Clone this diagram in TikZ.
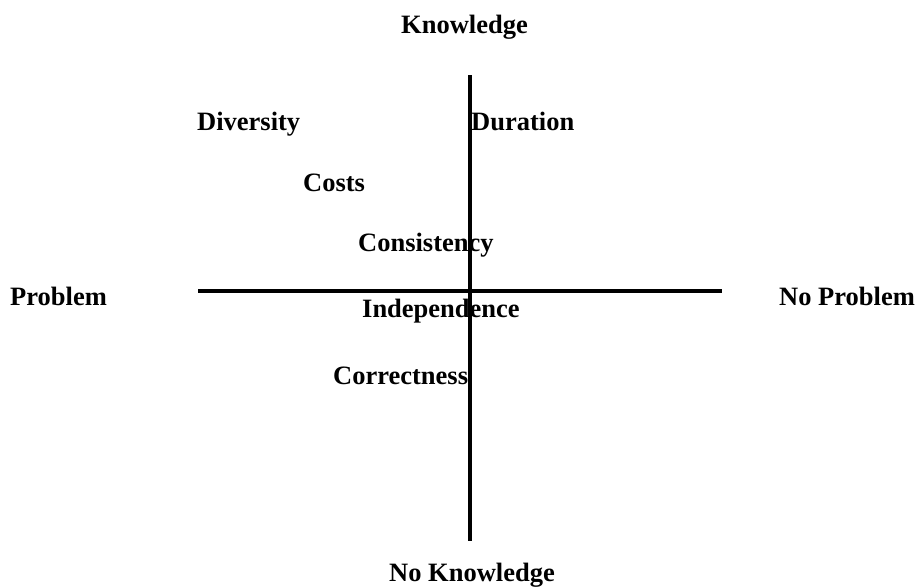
\documentclass[tikz,border=0pt]{standalone}
\usepackage{fontspec}
\setmainfont{Liberation Serif}
\begin{document}
\begin{tikzpicture}[x=1pt,y=-1pt,
  lbl/.style={font=\bfseries\fontsize{26.5}{30}\selectfont, inner sep=0pt, anchor=base west},
  axis/.style={line width=3.2pt}]
\useasboundingbox (0,0) rectangle (923,587);
\coordinate (vt) at (470,75);
\coordinate (vb) at (470,541);
\coordinate (hl) at (198,291);
\coordinate (hr) at (722,291);
\draw[axis] (vt) -- (vb);
\draw[axis] (hl) -- (hr);
\node[lbl] (know) at (401,33) {Knowledge};
\node[lbl] (noknow) at (389,581) {No Knowledge};
\node[lbl] (prob) at (10,305) {Problem};
\node[lbl] (noprob) at (779,305) {No Problem};
\node[lbl] (div) at (197,130) {Diversity};
\node[lbl] (dur) at (471,130) {Duration};
\node[lbl] (cost) at (303,191) {Costs};
\node[lbl] (cons) at (358,251) {Consistency};
\node[lbl] (ind) at (362,317) {Independence};
\node[lbl] (cor) at (333,384) {Correctness};
\end{tikzpicture}
\end{document}
